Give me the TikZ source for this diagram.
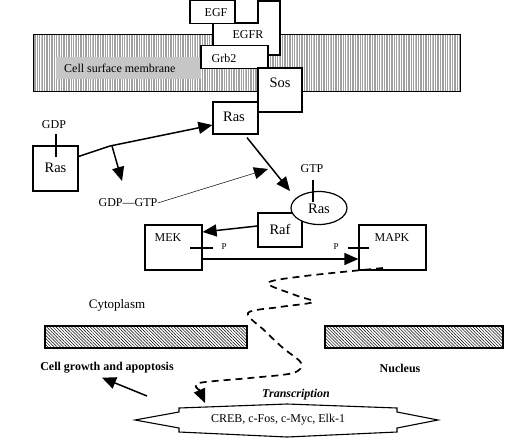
\documentclass[tikz,border=0pt]{standalone}
\usepackage{fontspec}
\setmainfont{Liberation Serif}
\usetikzlibrary{arrows.meta,shapes.geometric,patterns.meta}
\begin{document}
\begin{tikzpicture}[x=1pt,y=-1pt,
  box/.style={draw,line width=1.2pt,fill=white,inner sep=0pt},
  arr/.style={line width=1.5pt,-{Triangle[length=14pt,width=12pt]}},
  tick/.style={line width=1.1pt},
  lbl/.style={font=\fontsize{12}{14}\selectfont,inner sep=0pt},
  big/.style={font=\fontsize{14.5}{16}\selectfont,inner sep=0pt},
  hd/.style={font=\fontsize{12}{14}\selectfont\bfseries,inner sep=0pt}]
\useasboundingbox (0,0) rectangle (505,439);
% cell surface membrane
\draw[line width=1pt,pattern={Lines[angle=90,distance=1.7pt,line width=0.55pt]},pattern color=gray!75] (33,34) rectangle (460,91);
\fill[gray!45] (56,57) rectangle (201,79);
\node[lbl,anchor=west] (csm) at (64,68) {Cell surface membrane};
% receptor complex
\draw[line width=1.2pt,fill=white] (213,23) -- (258,23) -- (258,1) -- (280,1) -- (280,55) -- (213,55) -- cycle;
\node[lbl] (egfr) at (248,35) {EGFR};
\node[box,minimum width=45,minimum height=22.5] (egf) at (212.5,12) {};
\node[lbl] at (216,12.5) {EGF};
\node[box,minimum width=67,minimum height=22.5] (grb) at (234.5,57) {};
\node[lbl] at (224,58) {Grb2};
\node[box,minimum width=44,minimum height=44] (sos) at (280,90) {};
\node[big] at (280,83) {Sos};
\node[box,minimum width=45,minimum height=32] (rasT) at (235.5,118) {};
\node[big] at (234,117) {Ras};
% Ras-GDP
\node[box,minimum width=45,minimum height=45] (rasL) at (55.5,168.5) {};
\node[big] at (55.5,168) {Ras};
\node[lbl] (gdp) at (54,125) {GDP};
\draw[tick] (56,134) -- (56,157);
\coordinate (kink) at (110,146);
\draw[arr,-] ([yshift=12pt]rasL.east) -- (kink);
\draw[arr] (kink) -- ([yshift=-7pt]rasT.west);
\draw[arr] ([xshift=2pt]kink) -- (122,181);
\node[lbl] (gdpgtp) at (128,203) {GDP—GTP};
\coordinate (gtpin) at (268,169);
\draw[line width=0.5pt,-{Triangle[length=14pt,width=12pt]}] (gdpgtp.east) -- (gtpin);
% Ras-GTP, Raf
\node[box,minimum width=44,minimum height=34] (raf) at (280,230) {};
\node[big] at (280,229) {Raf};
\node[box,ellipse,minimum width=56,minimum height=33] (rasE) at (319,208) {};
\node[big] at (319,209) {Ras};
\node[lbl] (gtp) at (312,169) {GTP};
\draw[tick] (313,180) -- (313,202);
\draw[arr] ([xshift=11.5pt,yshift=-3pt]rasT.south) -- (290,191);
% MEK, MAPK
\node[box,minimum width=57,minimum height=45] (mek) at (173.5,247.5) {};
\node[lbl] at (168,238) {MEK};
\node[box,minimum width=67,minimum height=45] (mapk) at (392.5,247.5) {};
\node[lbl] at (392,238) {MAPK};
\draw[arr] ([yshift=4pt]raf.west) -- ([yshift=15.5pt]mek.east);
\draw[arr] ([yshift=-11.5pt]mek.east) -- ([yshift=-11.5pt]mapk.west);
\draw[tick] (190,248) -- (213,248);
\draw[tick] (348,248) -- (369,248);
\node[font=\fontsize{9}{10}\selectfont,inner sep=0pt] at (224,247) {P};
\node[font=\fontsize{9}{10}\selectfont,inner sep=0pt] at (336,247) {P};
% nuclear membrane
\node[font=\fontsize{13}{15}\selectfont,inner sep=0pt] (cyto) at (117,305) {Cytoplasm};
\draw[line width=1.2pt,pattern={Lines[angle=-45,distance=2.2pt,line width=0.5pt]}] (45,326) rectangle (247,348);
\draw[line width=1.2pt,pattern={Lines[angle=-45,distance=2.2pt,line width=0.5pt]}] (325,326) rectangle (503,348);
\node[hd] (growth) at (107,368) {Cell growth and apoptosis};
\node[hd] (nuc) at (400,368) {Nucleus};
% transcription
\node[hd,font=\fontsize{12}{14}\selectfont\bfseries\itshape] (trans) at (296,395) {Transcription};
\draw[line width=1.1pt,fill=white] (179,408) -- (287,404) -- (397,408) -- (397,412) -- (438,420) -- (397,428) -- (397,432)
  -- (287,437) -- (179,432) -- (179,428) -- (135,420) -- (179,412) -- cycle;
\node[lbl] (creb) at (278,420) {CREB, c-Fos, c-Myc, Elk-1};
\coordinate (tgt) at (205,403);
\draw[line width=1.7pt,dash pattern=on 7pt off 5pt] ([xshift=-9pt,yshift=2pt]mapk.south) plot[smooth,tension=0.55] coordinates {(383,268) (305,276) (268,283) (295,295) (313,302) (280,307) (248,313) (265,331) (283,348) (301,363) (293,373) (250,378) (199,383) (199,390)};
\draw[line width=1.5pt,-{Triangle[length=14pt,width=12pt]}] (199,389) -- (tgt);
\draw[arr] (147,396) -- ([xshift=-5pt,yshift=-4pt]growth.south);
\end{tikzpicture}
\end{document}
